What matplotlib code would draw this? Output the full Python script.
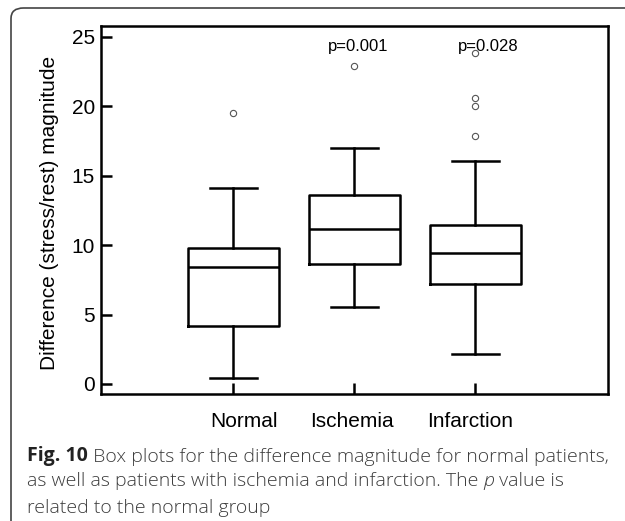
import matplotlib
matplotlib.use("Agg")
import matplotlib.pyplot as plt
from matplotlib.patches import FancyBboxPatch
from matplotlib.transforms import ScaledTranslation

# data
groups = ["Normal", "Ischemia", "Infarction"]
whis_lo = [0.43, 5.52, 2.18]
q1 = [4.18, 8.64, 7.20]
medians = [8.45, 11.18, 9.42]
q3 = [9.80, 13.60, 11.42]
whis_hi = [14.09, 16.96, 16.07]
outliers = [[19.48], [22.89], [23.80, 20.56, 20.00, 17.85]]
p_labels = ["p=0.001", "p=0.028"]

fig = plt.figure(figsize=(6.25, 5.21), dpi=100)
ax = fig.add_axes([0.161, 0.2443, 0.8112, 0.7064])

stats = []
for i, g in enumerate(groups):
    stats.append({"label": g, "whislo": whis_lo[i], "q1": q1[i], "med": medians[i],
                  "q3": q3[i], "whishi": whis_hi[i], "fliers": outliers[i]})

lw = 1.8
ax.bxp(stats, positions=[1, 2, 3], widths=0.755, capwidths=0.39,
       boxprops=dict(color="black", linewidth=lw),
       medianprops=dict(color="black", linewidth=lw),
       whiskerprops=dict(color="black", linewidth=lw),
       capprops=dict(color="black", linewidth=lw),
       flierprops=dict(marker="o", markersize=4.5, markerfacecolor="none",
                       markeredgecolor="#555555", markeredgewidth=0.8))

ax.set_xlim(-0.096, 4.094)
ax.set_ylim(-0.70, 25.79)
ax.set_yticks([0, 5, 10, 15, 20, 25])
ax.set_xticks([1, 2, 3])
ax.set_xticklabels(groups)

for s in ax.spines.values():
    s.set_linewidth(lw)
ax.tick_params(direction="in", length=8, width=lw, labelsize=15, top=False, right=False)
ax.tick_params(axis="y", pad=4)
ax.tick_params(axis="x", pad=13)
for lab in ax.get_xticklabels() + ax.get_yticklabels():
    lab.set_family("Liberation Sans")
for lab, dx in zip(ax.get_xticklabels(), [11, -2, -5]):
    lab.set_transform(lab.get_transform() + ScaledTranslation(dx / 100, 0, fig.dpi_scale_trans))

ax.set_ylabel("Difference (stress/rest) magnitude", fontsize=15, family="Liberation Sans")
ax.yaxis.set_label_coords(-0.082, 0.49)

ax.text(2.03, 24.3, p_labels[0], ha="center", va="center", fontsize=12, family="Liberation Sans")
ax.text(2.857, 24.3, p_labels[1], ha="left", va="center", fontsize=12, family="Liberation Sans")

# caption under the chart
cap = dict(fontsize=14, family="Open Sans", color="#3c3c3c", fontweight="light")
t = fig.text(27 / 625, 1 - 461 / 521, "Fig. 10", fontsize=14, family="Open Sans",
             fontweight="bold", color="#222222", va="baseline")
ax.annotate(" Box plots for the difference magnitude for normal patients,", xy=(1, 0),
            xycoords=t, va="bottom", ha="left", annotation_clip=False, **cap)
t2 = fig.text(27 / 625, 1 - 486 / 521, "as well as patients with ischemia and infarction. The ",
              va="baseline", **cap)
t3 = ax.annotate("p", xy=(1, 0), xycoords=t2, va="bottom", ha="left",
                 annotation_clip=False, style="italic", **cap)
ax.annotate(" value is", xy=(1, 0), xycoords=t3, va="bottom", ha="left",
            annotation_clip=False, **cap)
fig.text(27 / 625, 1 - 513 / 521, "related to the normal group", va="baseline", **cap)

# rounded frame around the figure
frame = FancyBboxPatch((11 / 625, -0.1), 1.2, 1 - 8 / 521 + 0.1,
                       boxstyle="round,pad=0,rounding_size=0.02",
                       transform=fig.transFigure, facecolor="none",
                       edgecolor="#444444", linewidth=1.2, clip_on=False)
fig.add_artist(frame)

plt.savefig("out.png", dpi=100)
